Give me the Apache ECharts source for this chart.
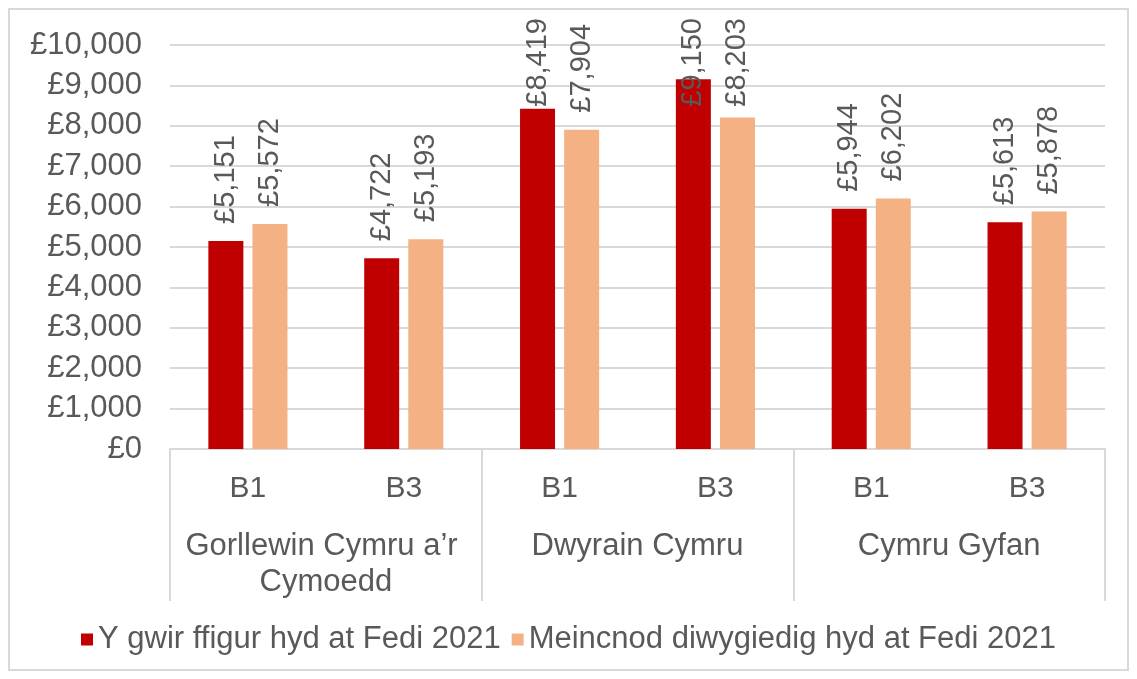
<!DOCTYPE html>
<html>
<head>
<meta charset="utf-8">
<script src="https://cdn.jsdelivr.net/npm/echarts@6/dist/echarts.min.js"></script>
<style>
html,body{margin:0;padding:0;background:#fff;}
#chart{width:1137px;height:679px;}
</style>
</head>
<body>
<div id="chart"></div>
<script>
// ---- data ----
const subCategories = ['B1', 'B3', 'B1', 'B3', 'B1', 'B3'];
const groupCategories = ['Gorllewin Cymru a’r Cymoedd', 'Dwyrain Cymru', 'Cymru Gyfan'];
const seriesNames = ['Y gwir ffigur hyd at Fedi 2021', 'Meincnod diwygiedig hyd at Fedi 2021'];
const actualValues = [5151, 4722, 8419, 9150, 5944, 5613];
const benchmarkValues = [5572, 5193, 7904, 8203, 6202, 5878];
const yTicks = { min: 0, max: 10000, interval: 1000 };

const FONT = "'Liberation Sans', Arial, sans-serif";
const TXT = '#595959';
const LINE = '#d9d9d9';

function money(v) {
  return '£' + Number(v).toLocaleString('en-GB');
}

const chart = echarts.init(document.getElementById('chart'), null, { renderer: 'canvas' });

const labelCfg = {
  show: true,
  position: 'top',
  rotate: 90,
  align: 'left',
  verticalAlign: 'middle',
  distance: 17,
  color: TXT,
  fontFamily: FONT,
  fontSize: 29,
  formatter: p => money(p.value)
};
const TOP_LIMIT = 18;
const clampLabel = p => (p.labelRect.y < TOP_LIMIT ? { y: TOP_LIMIT + p.labelRect.height } : {});

chart.setOption({
  backgroundColor: '#fff',
  animation: false,
  textStyle: { fontFamily: FONT },
  graphic: [{
    type: 'rect',
    shape: { x: 9, y: 9, width: 1119, height: 661 },
    style: { fill: 'none', stroke: LINE, lineWidth: 2 },
    silent: true,
    z: -10
  }],
  grid: { left: 170, right: 32, top: 45, bottom: 230, containLabel: false },
  legend: {
    data: seriesNames,
    bottom: 19,
    left: 'center',
    itemWidth: 12,
    itemHeight: 12,
    itemGap: 11,
    icon: 'rect',
    textStyle: { color: TXT, fontSize: 31, fontFamily: FONT }
  },
  xAxis: [{
    type: 'category',
    data: subCategories,
    position: 'bottom',
    axisLine: { show: true, lineStyle: { color: LINE, width: 2 } },
    axisTick: { show: false },
    axisLabel: { color: TXT, fontSize: 30, fontFamily: FONT, margin: 25, interval: 0 }
  }, {
    type: 'category',
    data: groupCategories,
    position: 'bottom',
    axisLine: { show: false },
    axisTick: { show: true, length: 152, lineStyle: { color: LINE, width: 2 } },
    axisLabel: {
      color: TXT, fontSize: 31, fontFamily: FONT, margin: 79, interval: 0,
      width: 308, overflow: 'break', lineHeight: 36, align: 'center'
    }
  }],
  yAxis: {
    type: 'value',
    min: yTicks.min,
    max: yTicks.max,
    interval: yTicks.interval,
    axisLine: { show: false },
    axisTick: { show: false },
    splitLine: { lineStyle: { color: LINE, width: 2 } },
    axisLabel: { color: TXT, fontSize: 31, fontFamily: FONT, margin: 28, formatter: v => money(v) }
  },
  series: [{
    name: seriesNames[0],
    type: 'bar',
    data: actualValues,
    barWidth: 35,
    barGap: '26%',
    itemStyle: { color: '#C00000' },
    label: labelCfg,
    labelLayout: clampLabel
  }, {
    name: seriesNames[1],
    type: 'bar',
    data: benchmarkValues,
    barWidth: 35,
    barGap: '26%',
    itemStyle: { color: '#F4B183' },
    label: labelCfg,
    labelLayout: clampLabel
  }]
});
</script>
</body>
</html>
